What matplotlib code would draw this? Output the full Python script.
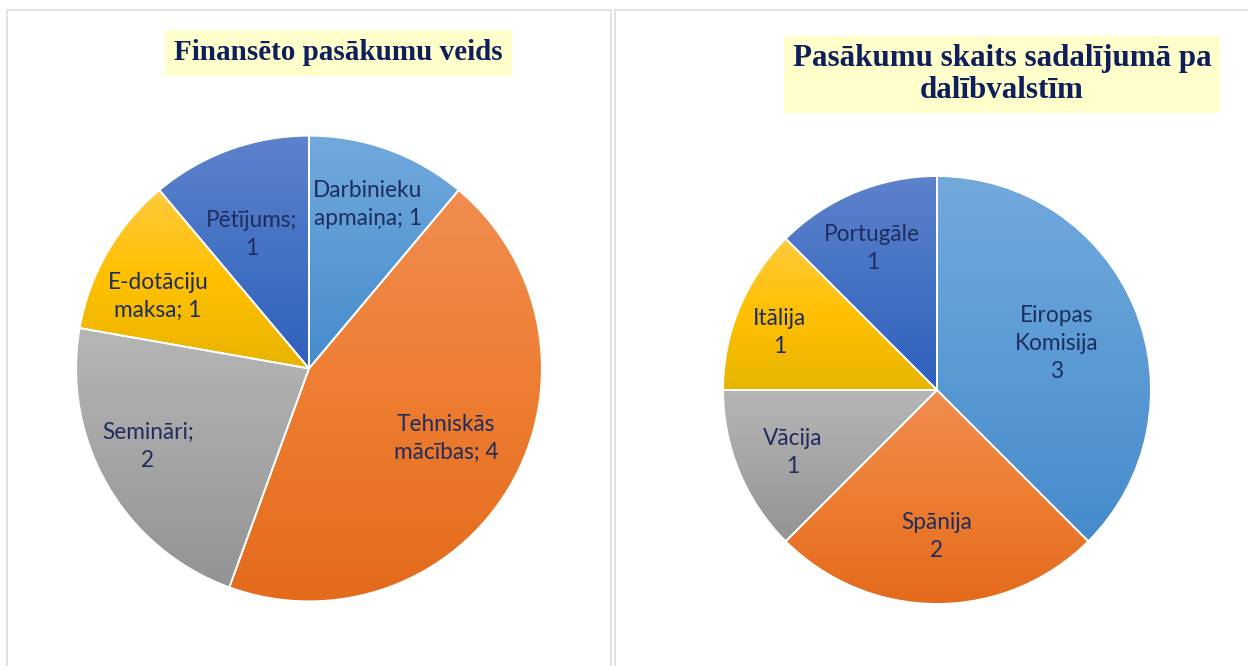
#!/usr/bin/env python3
# plot.py
#
# Two pie charts side by side: funded event types and events by member state.
# Office-style vertical gradient on every slice, titles on a pale yellow band.

import textwrap
import numpy as np
import matplotlib
matplotlib.use("Agg")
import matplotlib.pyplot as plt
from matplotlib.colors import LinearSegmentedColormap
from matplotlib.patches import Rectangle

# --- data ---
left_title = "Finansēto pasākumu veids"
left_names = ["Darbinieku apmaiņa", "Tehniskās mācības", "Semināri",
              "E-dotāciju maksa", "Pētījums"]
left_values = [1, 4, 2, 1, 1]

right_title = "Pasākumu skaits sadalījumā pa\ndalībvalstīm"
right_names = ["Eiropas Komisija", "Spānija", "Vācija", "Itālija", "Portugāle"]
right_values = [3, 2, 1, 1, 1]

# slice gradients (top, middle, bottom) in Office palette order
slice_colors = [
    ("#72A9DD", "#5B9BD5", "#458BCB"),  # blue
    ("#F18D50", "#ED7D31", "#E46A1C"),  # orange
    ("#B6B6B6", "#A5A5A5", "#939393"),  # gray
    ("#FFCA3E", "#FFC000", "#E8B400"),  # gold
    ("#5E82CC", "#4472C4", "#2F60BD"),  # dark blue
]

W, H = 1248, 666
TITLE_COLOR = "#0E1F5B"
LABEL_COLOR = "#1F2D5E"
LABEL_FONT = ["Lato", "DejaVu Sans"]


def fig_box(x, y, w, h):
    """pixel box (top-left origin) -> figure fraction rect"""
    return [x / W, 1 - (y + h) / H, w / W, h / H]


def draw_pie(fig, cx, cy, r, values, labels, label_px):
    ax = fig.add_axes(fig_box(cx - r, cy - r, 2 * r, 2 * r))
    wedges, _ = ax.pie(values, startangle=90, counterclock=False,
                       colors=[c[1] for c in slice_colors[:len(values)]],
                       wedgeprops=dict(edgecolor="white", linewidth=1.3))
    grad = np.linspace(0, 1, 256).reshape(-1, 1)
    for w, cols in zip(wedges, slice_colors):
        cmap = LinearSegmentedColormap.from_list("g", list(cols))
        ext = w.get_path().get_extents()
        im = ax.imshow(grad, cmap=cmap, origin="upper", aspect="auto",
                       extent=[ext.x0, ext.x1, ext.y0, ext.y1], zorder=1,
                       interpolation="bilinear")
        im.set_clip_path(w)
        w.set_facecolor("none")
        w.set_zorder(2)
    ax.set_aspect("equal")
    ax.set_xlim(-1.005, 1.005)
    ax.set_ylim(-1.005, 1.005)
    ax.axis("off")
    for text, (px, py) in zip(labels, label_px):
        ax.text((px - cx) / r, (cy - py) / r, text, ha="center", va="center",
                color=LABEL_COLOR, fontsize=16.3, family=LABEL_FONT,
                linespacing=1.42, zorder=3)
    return ax


fig = plt.figure(figsize=(W / 100, H / 100), dpi=100)
fig.patch.set_facecolor("white")

# panel frames
for x0, x1 in [(7, 611), (615, 1260)]:
    fig.add_artist(Rectangle((x0 / W, -0.05), (x1 - x0) / W, 1.05 - 9.5 / H,
                             transform=fig.transFigure, fill=False,
                             edgecolor="#DADDE2", linewidth=1.2))

# titles
fig.text(338.5 / W, 1 - 53 / H, left_title, ha="center", va="center",
         family="Liberation Serif", fontweight="bold", fontsize=21,
         color=TITLE_COLOR,
         bbox=dict(boxstyle="square,pad=0.32", fc="#FFFFCC", ec="none"))
fig.text(1002 / W, 1 - 74.5 / H, right_title, ha="center", va="center",
         family="Liberation Serif", fontweight="bold", fontsize=22.3,
         color=TITLE_COLOR, linespacing=1.1,
         bbox=dict(boxstyle="square,pad=0.28", fc="#FFFFCC", ec="none"))

# left pie
left_labels = [textwrap.fill(f"{n}; {v}", width=10, break_on_hyphens=False)
               for n, v in zip(left_names, left_values)]
left_label_px = [(368, 204), (447, 439), (147, 447), (157, 296), (251, 234)]
draw_pie(fig, 309, 368.5, 234, left_values, left_labels, left_label_px)

# right pie
right_labels = [f"{n.replace(' ', chr(10))}\n{v}"
                for n, v in zip(right_names, right_values)]
right_label_px = [(1057, 343), (937, 537), (792, 453), (779, 332), (872, 248)]
draw_pie(fig, 937, 390, 215, right_values, right_labels, right_label_px)

fig.savefig("out.png", dpi=100)
